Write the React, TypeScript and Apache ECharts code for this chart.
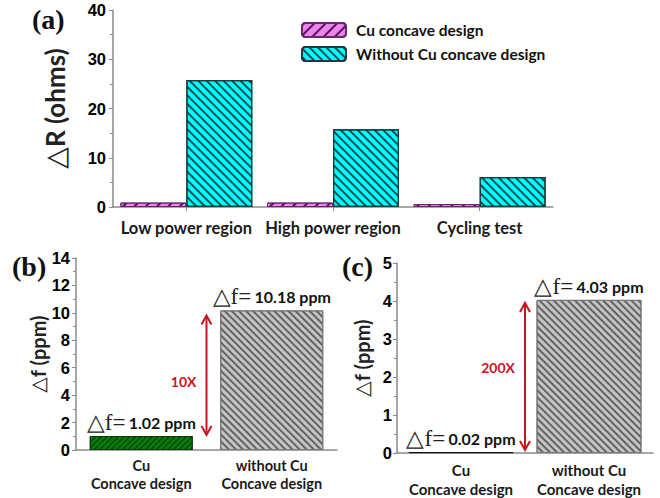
import React, { useEffect, useRef } from "react";
import * as echarts from "echarts";

// ---- data ----
const catsA = ["Low power region", "High power region", "Cycling test"];
const seriesNamesA = ["Cu concave design", "Without Cu concave design"];
const cuA = [0.9, 0.9, 0.6];
const withoutA = [25.8, 15.8, 6.1];

const catsBC = ["Cu\nConcave design", "without Cu\nConcave design"];
const valuesB = [1.02, 10.18];
const valuesC = [0.02, 4.03];
const arrowB = [1.1, 9.8];
const arrowC = [0.08, 3.95];
const ratioB = { text: "10X", at: 5.0 };
const ratioC = { text: "200X", at: 2.25 };

const SANS = "Lato";
const NUM = "Liberation Sans";
const SERIF = "'Liberation Serif', 'Times New Roman', serif";

const hatch = (color: string, rot: number, gapY: number[]) => ({
  symbol: "rect",
  symbolSize: 1,
  color,
  dashArrayX: [1, 0],
  dashArrayY: gapY,
  rotation: rot,
});

const labelRich = {
  t: { fontFamily: SERIF, fontSize: 23, color: "#222", fontWeight: "normal" },
  v: { fontFamily: SANS, fontSize: 16, color: "#111", fontWeight: "bold" },
};
const labelCfg = {
  show: true,
  position: "top",
  distance: 2,
  formatter: (p: any) => `{t|\u25B3f=} {v|${Number(p.value).toFixed(2)} ppm}`,
  rich: labelRich,
};

const yAxisBase = (gridIndex: number, max: number, interval: number, name: string, nameGap: number, nameSize: number, triSize: number, margin: number) => ({
  type: "value",
  gridIndex,
  min: 0,
  max,
  interval,
  name,
  nameLocation: "middle",
  nameRotate: 90,
  nameGap,
  nameTextStyle: {
    fontFamily: SANS,
    fontWeight: "bold",
    fontSize: nameSize,
    color: "#222",
    rich: {
      tri: { fontFamily: "DejaVu Sans", fontWeight: "normal", fontSize: triSize, color: "#222" },
      n: { fontFamily: SANS, fontWeight: "bold", fontSize: nameSize, color: "#222" },
    },
  },
  axisLine: { show: true, lineStyle: { color: "#8a8a8a", width: 1.5 } },
  axisTick: { show: true, length: 4, lineStyle: { color: "#8a8a8a" } },
  minorTick: { show: true, splitNumber: 2, length: 3, lineStyle: { color: "#8a8a8a" } },
  splitLine: { show: false },
  axisLabel: { margin, color: "#000", fontFamily: NUM, fontWeight: "bold", fontSize: 16.5 },
});

export default function App() {
  const ref = useRef<HTMLDivElement>(null);
  useEffect(() => {
    if (!ref.current) return;
    const chart = echarts.init(ref.current, null, { renderer: "svg" });
    const option: any = {
      animation: false,
      backgroundColor: "#fff",
      grid: [
        { left: 113, top: 10, width: 440, height: 197 },
        { left: 76, top: 258, width: 261, height: 192 },
        { left: 397, top: 263, width: 256, height: 190 },
      ],
      legend: {
        data: seriesNamesA,
        orient: "vertical",
        left: 296,
        top: 17,
        itemWidth: 44,
        itemHeight: 14,
        itemGap: 8,
        textStyle: { fontFamily: SANS, fontWeight: "bold", fontSize: 15.5, color: "#111", padding: [0, 0, 0, 5] },
      },
      xAxis: [
        {
          type: "category",
          gridIndex: 0,
          data: catsA,
          axisLine: { lineStyle: { color: "#8a8a8a", width: 1.5 } },
          axisTick: { show: true, alignWithLabel: true, length: 4, lineStyle: { color: "#8a8a8a" } },
          axisLabel: { interval: 0, fontFamily: SANS, fontWeight: "bold", fontSize: 16.5, color: "#1a1a1a", margin: 12 },
        },
        {
          type: "category",
          gridIndex: 1,
          data: catsBC,
          axisLine: { lineStyle: { color: "#8a8a8a", width: 1.5 } },
          axisTick: { show: false },
          axisLabel: { interval: 0, fontFamily: SANS, fontWeight: "bold", fontSize: 14.5, color: "#1a1a1a", margin: 6, lineHeight: 18 },
        },
        {
          type: "category",
          gridIndex: 2,
          data: catsBC,
          axisLine: { lineStyle: { color: "#8a8a8a", width: 1.5 } },
          axisTick: { show: false },
          axisLabel: { interval: 0, fontFamily: SANS, fontWeight: "bold", fontSize: 15, color: "#1a1a1a", margin: 7, lineHeight: 19 },
        },
      ],
      yAxis: [
        yAxisBase(0, 40, 10, "{tri|\u25B3}{n|R (ohms)}", 44, 26, 28, 7),
        yAxisBase(1, 14, 2, "{tri|\u25B3}{n|f (ppm)}", 25, 20, 20, 6),
        yAxisBase(2, 5, 1, "{tri|\u25B3}{n|f (ppm)}", 25, 20, 20, 5),
      ],
      series: [
        {
          name: seriesNamesA[0],
          type: "bar",
          xAxisIndex: 0,
          yAxisIndex: 0,
          barWidth: 66,
          barGap: "0%",
          data: cuA,
          itemStyle: {
            color: "#ee82ee",
            borderColor: "#6a2a6a",
            borderWidth: 1,
            decal: hatch("rgba(60,0,60,0.85)", -Math.PI / 4, [1.5, 6]),
          },
        },
        {
          name: seriesNamesA[1],
          type: "bar",
          xAxisIndex: 0,
          yAxisIndex: 0,
          barWidth: 66,
          barGap: "0%",
          data: withoutA,
          itemStyle: {
            color: "#00ffff",
            borderColor: "#1e3c3c",
            borderWidth: 1.2,
            decal: hatch("rgba(0,50,60,0.85)", Math.PI / 4, [1.2, 4]),
          },
        },
        {
          type: "bar",
          xAxisIndex: 1,
          yAxisIndex: 1,
          barWidth: 103,
          label: labelCfg,
          data: [
            {
              value: valuesB[0],
              itemStyle: {
                color: "#0a7a0a",
                borderColor: "#0a3a0a",
                borderWidth: 1,
                decal: hatch("rgba(0,40,0,0.8)", -Math.PI / 4, [1, 3]),
              },
            },
            {
              value: valuesB[1],
              itemStyle: {
                color: "#c4c4c4",
                borderColor: "#777",
                borderWidth: 1,
                decal: hatch("rgba(90,90,90,0.9)", Math.PI / 4, [1.2, 2.5]),
              },
            },
          ],
        },
        {
          type: "bar",
          xAxisIndex: 2,
          yAxisIndex: 2,
          barWidth: 105,
          label: labelCfg,
          data: [
            {
              value: valuesC[0],
              itemStyle: { color: "#222", borderColor: "#111", borderWidth: 1 },
            },
            {
              value: valuesC[1],
              itemStyle: {
                color: "#c4c4c4",
                borderColor: "#777",
                borderWidth: 1,
                decal: hatch("rgba(90,90,90,0.9)", Math.PI / 4, [1.2, 2.5]),
              },
            },
          ],
        },
      ],
    };
    chart.setOption(option);

    const RED = "#c8141e";
    const arrowGraphic = (gridIndex: number, range: number[], ratio: { text: string; at: number }) => {
      const p0 = chart.convertToPixel({ gridIndex } as any, [0, range[0]]) as number[];
      const p1 = chart.convertToPixel({ gridIndex } as any, [1, range[1]]) as number[];
      const pm = chart.convertToPixel({ gridIndex } as any, [0, ratio.at]) as number[];
      const x = (p0[0] + p1[0]) / 2;
      const yb = p0[1];
      const yt = p1[1];
      const hw = 5;
      const hh = 9;
      return [
        { type: "line", shape: { x1: x, y1: yt + 1, x2: x, y2: yb - 1 }, style: { stroke: RED, lineWidth: 2 } },
        { type: "polyline", shape: { points: [[x - hw, yt + hh], [x, yt], [x + hw, yt + hh]] }, style: { stroke: RED, lineWidth: 2, fill: null } },
        { type: "polyline", shape: { points: [[x - hw, yb - hh], [x, yb], [x + hw, yb - hh]] }, style: { stroke: RED, lineWidth: 2, fill: null } },
        {
          type: "text",
          x: x - 10,
          y: pm[1],
          style: {
            text: ratio.text,
            fill: RED,
            font: `bold 14px ${SANS}`,
            align: "right",
            verticalAlign: "middle",
          },
        },
      ];
    };
    const panelLabel = (text: string, x: number, y: number) => ({
      type: "text",
      x,
      y,
      style: { text, fill: "#111", font: `bold 28px ${SERIF}`, verticalAlign: "middle" },
    });
    chart.setOption({
      graphic: [
        panelLabel("(a)", 32, 19),
        panelLabel("(b)", 12, 266),
        panelLabel("(c)", 342, 266),
        ...arrowGraphic(1, arrowB, ratioB),
        ...arrowGraphic(2, arrowC, ratioC),
      ],
    });
    return () => chart.dispose();
  }, []);
  return <div ref={ref} style={{ position: "fixed", left: 0, top: 0, width: 660, height: 498 }} />;
}
